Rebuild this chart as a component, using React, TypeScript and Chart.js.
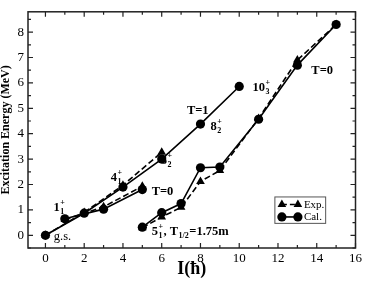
import React, { useEffect, useRef } from 'react';
import { Chart, registerables } from 'chart.js';

Chart.register(...registerables);

// ---- data ----
const xTicks = [0, 2, 4, 6, 8, 10, 12, 14, 16];
const yTicks = [0, 1, 2, 3, 4, 5, 6, 7, 8];

const calT1Spin = [0, 2, 4, 6, 8, 10];
const calT1Energy = [0, 0.87, 1.9, 3.0, 4.38, 5.86];
const expT1Spin = [0, 2, 4, 6];
const expT1Energy = [0, 0.9, 1.97, 3.27];

const calT0Spin = [1, 3, 5];
const calT0Energy = [0.65, 1.03, 1.8];
const expT0Spin = [1, 3, 5];
const expT0Energy = [0.62, 1.12, 1.93];

const calIsoSpin = [5, 6, 7, 8, 9, 11, 13, 15];
const calIsoEnergy = [0.32, 0.89, 1.25, 2.66, 2.69, 4.57, 6.7, 8.3];
const expIsoSpin = [5, 6, 7, 8, 9, 11, 13, 15];
const expIsoEnergy = [0.3, 0.72, 1.1, 2.12, 2.55, 4.6, 6.9, 8.3];

const legendLabels = ['Exp.', 'Cal.'];

// annotation texts (anchored in data coordinates: left, baseline)
type Part = { t?: string; sup?: string; sub?: string };
const annotations: { x: number; y: number; bold: boolean; parts: Part[] }[] = [
  { x: 0.41, y: 0.97, bold: true, parts: [{ t: '1' }, { sup: '+', sub: '1' }] },
  { x: 3.37, y: 2.13, bold: true, parts: [{ t: '4' }, { sup: '+', sub: '1' }] },
  { x: 5.95, y: 2.8, bold: true, parts: [{ t: '6' }, { sup: '+', sub: '2' }] },
  { x: 8.52, y: 4.15, bold: true, parts: [{ t: '8' }, { sup: '+', sub: '2' }] },
  { x: 10.69, y: 5.7, bold: true, parts: [{ t: '10' }, { sup: '+', sub: '3' }] },
  { x: 7.3, y: 4.76, bold: true, parts: [{ t: 'T=1' }] },
  { x: 13.72, y: 6.34, bold: true, parts: [{ t: 'T=0' }] },
  { x: 5.48, y: 1.58, bold: true, parts: [{ t: 'T=0' }] },
  { x: 0.43, y: -0.2, bold: false, parts: [{ t: 'g.s.' }] },
  {
    x: 5.48, y: 0.03, bold: true,
    parts: [{ t: '5' }, { sup: '+', sub: '1' }, { t: ', T' }, { sub: '1/2' }, { t: '=1.75m' }],
  },
];

const SERIF = "'Liberation Serif', 'Times New Roman', serif";

const pts = (xs: number[], ys: number[]) => xs.map((x, i) => ({ x, y: ys[i] }));

const calStyle = {
  borderColor: '#000',
  backgroundColor: '#000',
  borderWidth: 1.6,
  pointStyle: 'circle',
  pointRadius: 4.6,
  pointBorderWidth: 0,
  showLine: true,
  tension: 0,
};
const expStyle = {
  borderColor: '#000',
  backgroundColor: '#000',
  borderWidth: 1.6,
  borderDash: [6, 3],
  pointStyle: 'triangle',
  pointRadius: 5,
  pointBorderWidth: 0,
  showLine: true,
  tension: 0,
};

const decor = {
  id: 'decor',
  beforeDatasetsDraw(chart: any) {
    const { ctx, chartArea: a, scales } = chart;
    const xs = scales.x;
    const ys = scales.y;
    ctx.save();
    ctx.strokeStyle = '#222';
    ctx.lineWidth = 1.5;
    ctx.strokeRect(a.left, a.top, a.right - a.left, a.bottom - a.top);
    ctx.lineWidth = 1.2;
    ctx.beginPath();
    for (let v = 0; v <= 16; v += 1) {
      const p = xs.getPixelForValue(v);
      const len = v % 2 === 0 ? 5 : 3;
      ctx.moveTo(p, a.bottom);
      ctx.lineTo(p, a.bottom - len);
      ctx.moveTo(p, a.top);
      ctx.lineTo(p, a.top + len);
    }
    for (let v = -0.5; v <= 8.6; v += 0.5) {
      const p = ys.getPixelForValue(v);
      const len = Number.isInteger(v) ? 5 : 3;
      ctx.moveTo(a.left, p);
      ctx.lineTo(a.left + len, p);
      ctx.moveTo(a.right, p);
      ctx.lineTo(a.right - len, p);
    }
    ctx.stroke();
    ctx.restore();
  },
  afterDatasetsDraw(chart: any) {
    const { ctx, scales } = chart;
    const xs = scales.x;
    const ys = scales.y;
    ctx.save();
    ctx.fillStyle = '#000';
    ctx.textBaseline = 'alphabetic';
    ctx.textAlign = 'left';
    for (const an of annotations) {
      let px = xs.getPixelForValue(an.x);
      const py = ys.getPixelForValue(an.y);
      const w = an.bold ? 'bold ' : '';
      for (const part of an.parts) {
        if (part.t) {
          ctx.font = `${w}12.5px ${SERIF}`;
          ctx.fillText(part.t, px, py);
          px += ctx.measureText(part.t).width;
        } else {
          ctx.font = `${w}8px ${SERIF}`;
          let adv = 0;
          if (part.sup) {
            ctx.fillText(part.sup, px + 0.5, py - 6);
            adv = Math.max(adv, ctx.measureText(part.sup).width);
          }
          if (part.sub) {
            ctx.fillText(part.sub, px + 0.5, py + 3);
            adv = Math.max(adv, ctx.measureText(part.sub).width);
          }
          px += adv + 1;
        }
      }
    }

    // legend box
    const bx0 = xs.getPixelForValue(11.84);
    const bx1 = xs.getPixelForValue(14.46);
    const by0 = ys.getPixelForValue(1.51);
    const by1 = ys.getPixelForValue(0.47);
    ctx.fillStyle = '#fff';
    ctx.fillRect(bx0, by0, bx1 - bx0, by1 - by0);
    ctx.strokeStyle = '#555';
    ctx.lineWidth = 1;
    ctx.strokeRect(bx0, by0, bx1 - bx0, by1 - by0);
    const rows = [by0 + 7.5, by0 + 20];
    const mx0 = bx0 + 7;
    const mx1 = bx0 + 23;
    ctx.fillStyle = '#000';
    ctx.strokeStyle = '#000';
    ctx.lineWidth = 1.6;
    // exp row
    ctx.setLineDash([5, 3]);
    ctx.beginPath();
    ctx.moveTo(mx0, rows[0]);
    ctx.lineTo(mx1, rows[0]);
    ctx.stroke();
    ctx.setLineDash([]);
    for (const mx of [mx0, mx1]) {
      const r = 5;
      ctx.beginPath();
      ctx.moveTo(mx, rows[0] - r);
      ctx.lineTo(mx + r * 0.866, rows[0] + r * 0.5);
      ctx.lineTo(mx - r * 0.866, rows[0] + r * 0.5);
      ctx.closePath();
      ctx.fill();
    }
    // cal row
    ctx.beginPath();
    ctx.moveTo(mx0, rows[1]);
    ctx.lineTo(mx1, rows[1]);
    ctx.stroke();
    for (const mx of [mx0, mx1]) {
      ctx.beginPath();
      ctx.arc(mx, rows[1], 4.6, 0, Math.PI * 2);
      ctx.fill();
    }
    ctx.font = `11px ${SERIF}`;
    ctx.textBaseline = 'middle';
    ctx.fillText(legendLabels[0], bx0 + 29, rows[0] + 0.5);
    ctx.fillText(legendLabels[1], bx0 + 29, rows[1] + 0.5);
    ctx.restore();
  },
};

export default function App() {
  const ref = useRef<HTMLCanvasElement | null>(null);
  useEffect(() => {
    if (!ref.current) return;
    const chart = new Chart(ref.current, {
      type: 'scatter',
      data: {
        datasets: [
          { label: 'Cal. T=1', data: pts(calT1Spin, calT1Energy), ...calStyle },
          { label: 'Cal. T=0', data: pts(calT0Spin, calT0Energy), ...calStyle },
          { label: 'Cal. iso', data: pts(calIsoSpin, calIsoEnergy), ...calStyle },
          { label: 'Exp. T=1', data: pts(expT1Spin, expT1Energy), ...expStyle },
          { label: 'Exp. T=0', data: pts(expT0Spin, expT0Energy), ...expStyle },
          { label: 'Exp. iso', data: pts(expIsoSpin, expIsoEnergy), ...expStyle },
        ] as any,
      },
      options: {
        animation: false,
        responsive: false,
        maintainAspectRatio: false,
        layout: { padding: { top: 3, right: 8, left: 0, bottom: 0 } },
        plugins: { legend: { display: false }, tooltip: { enabled: false } },
        scales: {
          x: {
            type: 'linear',
            min: -0.9,
            max: 16,
            grid: { display: false, drawTicks: false },
            border: { display: false },
            afterBuildTicks: (s: any) => {
              s.ticks = xTicks.map((v) => ({ value: v }));
            },
            afterFit: (s: any) => {
              s.height = 34;
            },
            ticks: {
              color: '#000',
              padding: 3,
              maxRotation: 0,
              autoSkip: false,
              font: { family: SERIF, size: 13 },
            },
            title: {
              display: true,
              text: 'I(ħ)',
              color: '#000',
              font: { family: SERIF, size: 18, weight: 'bold', lineHeight: 1 },
              padding: { top: 0, bottom: 4 },
            },
          },
          y: {
            type: 'linear',
            min: -0.5,
            max: 8.8,
            grid: { display: false, drawTicks: false },
            border: { display: false },
            afterBuildTicks: (s: any) => {
              s.ticks = yTicks.map((v) => ({ value: v }));
            },
            afterFit: (s: any) => {
              s.width = 28;
            },
            ticks: {
              color: '#000',
              padding: 4,
              autoSkip: false,
              font: { family: SERIF, size: 13 },
            },
            title: {
              display: true,
              text: 'Excitation Energy (MeV)',
              color: '#000',
              font: { family: SERIF, size: 12, weight: 'bold', lineHeight: 1 },
              padding: { top: 0, bottom: 0 },
            },
          },
        },
      } as any,
      plugins: [decor],
    });
    return () => chart.destroy();
  }, []);
  return (
    <div style={{ position: 'absolute', left: 0, top: 0, width: 365, height: 282, background: '#fff' }}>
      <canvas ref={ref} width={365} height={282} style={{ display: 'block' }} />
    </div>
  );
}
